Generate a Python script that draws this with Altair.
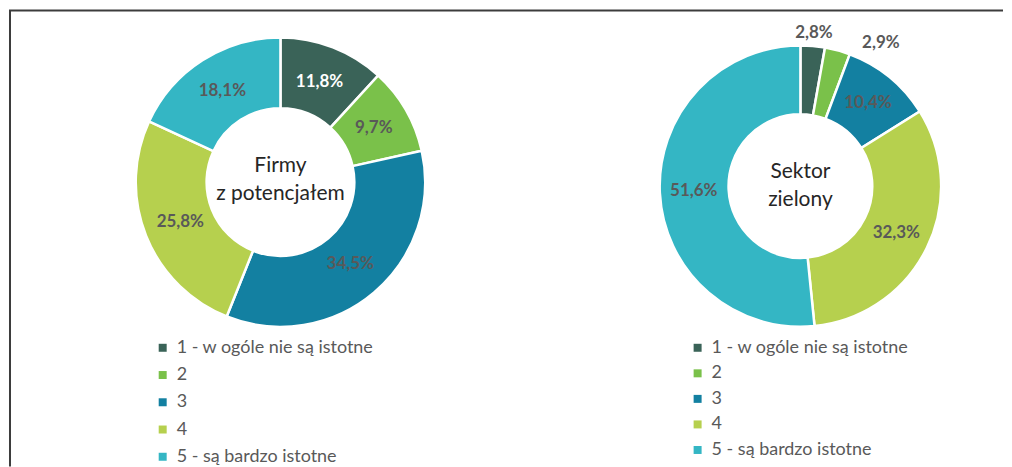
import altair as alt
import pandas as pd

categories = ["1 - w ogóle nie są istotne", "2", "3", "4", "5 - są bardzo istotne"]
firmy_values = [11.8, 9.7, 34.5, 25.8, 18.1]
sektor_values = [2.8, 2.9, 10.4, 32.3, 51.6]
colors = ["#3A6358", "#7AC14A", "#1380A1", "#B6D04E", "#34B6C4"]
firmy_center = "Firmy\nz potencjałem"
sektor_center = "Sektor\nzielony"

FONT = "Lato"
GRAY = "#595959"


def frame(values):
    return pd.DataFrame({
        "cat": categories,
        "k": list(range(1, len(categories) + 1)),
        "value": values,
        "label": [f"{v:.1f}".replace(".", ",") + "%" for v in values],
    })


def legend(lx, ly, row_pad):
    return alt.Legend(
        title=None, orient="none", legendX=lx, legendY=ly,
        symbolType="square", symbolSize=64, symbolStrokeWidth=0,
        labelFont=FONT, labelFontSize=18, labelColor=GRAY, labelLimit=400,
        labelOffset=5, rowPadding=row_pad, padding=0,
    )


def donut(values, outer, inner, mid, lg, center_text, center_dy, label_layers):
    df = frame(values)
    base = alt.Chart(df).encode(
        theta=alt.Theta("value:Q", stack=True),
        order=alt.Order("k:Q", sort="ascending"),
    )
    arcs = base.mark_arc(outerRadius=outer, innerRadius=inner,
                         stroke="white", strokeWidth=2.5).encode(
        color=alt.Color("cat:N", scale=alt.Scale(domain=categories, range=colors),
                        legend=lg)
    )
    layers = [arcs]
    for spec in label_layers:
        kw = dict(radius=spec.get("radius", mid), font=FONT, fontWeight="bold",
                  fontSize=17, align="center", baseline="middle")
        if "dx" in spec:
            kw["dx"] = spec["dx"]
        if "dy" in spec:
            kw["dy"] = spec["dy"]
        layers.append(
            base.mark_text(**kw).encode(
                text=alt.condition(spec["test"], "label:N", alt.value("")),
                color=alt.condition(spec.get("white", "false"),
                                    alt.value("white"), alt.value(GRAY)),
            )
        )
    center = alt.Chart(pd.DataFrame({"t": [center_text]})).mark_text(
        font=FONT, fontSize=21, color="#262626", lineBreak="\n",
        lineHeight=28, align="center", baseline="middle", dy=center_dy,
    ).encode(text="t:N")
    layers.append(center)
    return layers


left_layers = donut(
    firmy_values, 145, 74, 108, legend(145, 331, 9.3), firmy_center, -16,
    [dict(test="true", white="datum.k == 1")],
)
rule_df = pd.DataFrame({"a": [0]})
top_rule = alt.Chart(rule_df).mark_rule(color="#3C3C3C", strokeWidth=2).encode(
    x=alt.value(0), x2=alt.value(996), y=alt.value(2))
left_rule = alt.Chart(rule_df).mark_rule(color="#3C3C3C", strokeWidth=2).encode(
    x=alt.value(1), y=alt.value(2), y2=alt.value(459))
left = alt.layer(*left_layers, top_rule, left_rule).properties(width=544, height=348)

right_layers = donut(
    sektor_values, 141, 72, 107, legend(91, 331, 7.6), sektor_center, -14,
    [
        dict(test="datum.value >= 5"),
        dict(test="datum.k == 1", radius=154),
        dict(test="datum.k == 2", radius=154, dx=40, dy=5),
    ],
)
right = alt.layer(*right_layers).properties(width=406, height=356)

chart = (
    alt.hconcat(left, right, spacing=46, bounds="flush")
    .resolve_scale(color="independent")
    .configure_view(strokeWidth=0)
    .properties(padding=0)
)

chart.save("out.html", embed_options={"renderer": "svg", "actions": False})
